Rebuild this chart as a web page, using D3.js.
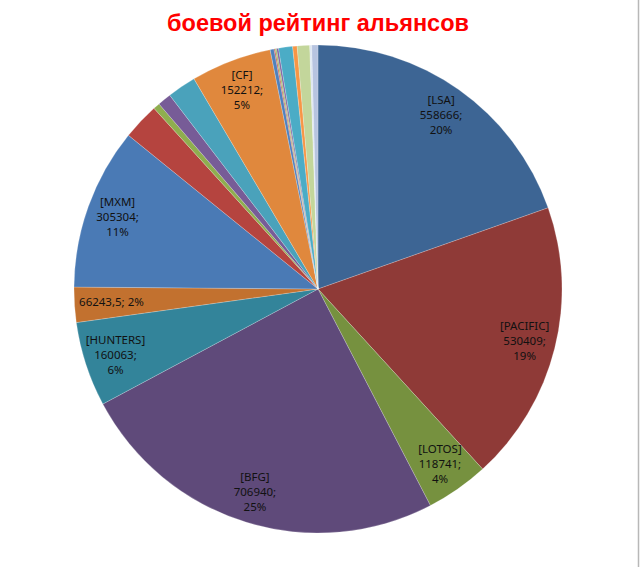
<!DOCTYPE html>
<html>
<head>
<meta charset="utf-8">
<script src="https://cdn.jsdelivr.net/npm/d3@7"></script>
<style>
  body { margin: 0; background: #fff; }
  svg { display: block; }
</style>
</head>
<body>
<div id="chart"></div>
<script>
// slices clockwise from 12 o'clock, as in the sheet
var names = ["[LSA]", "[PACIFIC]", "[LOTOS]", "[BFG]", "[HUNTERS]", "", "[MXM]",
             "", "", "", "", "[CF]",
             "", "", "", "", "", "", "", "", ""];
var values = [558666, 530409, 118741, 706940, 160063, 66243.5, 305304,
              69100, 12500, 25700, 54400, 152212,
              7300, 2200, 2600, 3700, 26500, 8400, 23500, 3700, 11700];
var shown = [1, 1, 1, 1, 1, 1, 1, 0, 0, 0, 0, 1, 0, 0, 0, 0, 0, 0, 0, 0, 0];
var colors = ["#3d6594", "#8f3a37", "#76913f", "#5f4a7a", "#33849a", "#c2712f", "#4a7ab5",
              "#b5443f", "#8fae4f", "#775c97", "#4aa2bb", "#e0883d",
              "#4f81bd", "#c0504d", "#9bbb59", "#8064a2", "#4bacc6", "#f79646",
              "#c3d69b", "#dce6f2", "#b7c4e0"];
var title = "боевой рейтинг альянсов";

var width = 640, height = 567,
    cx = 318, cy = 289, radius = 244, labelR = 213, lineH = 15;

var total = d3.sum(values);
var numFormat = d3.formatLocale({decimal: ",", thousands: "", grouping: [3]}).format("~f");

var svg = d3.select("#chart").append("svg")
    .attr("width", width)
    .attr("height", height);

svg.append("rect")
    .attr("width", width).attr("height", height)
    .attr("fill", "#fff");

svg.append("line")
    .attr("x1", 638.5).attr("x2", 638.5)
    .attr("y1", 0).attr("y2", height)
    .attr("stroke", "#b8b8b8")
    .attr("stroke-width", 1.5);

svg.append("text")
    .attr("x", 318).attr("y", 31)
    .attr("text-anchor", "middle")
    .attr("font-family", "'Liberation Sans', Arial, sans-serif")
    .attr("font-weight", "bold")
    .attr("font-size", 23.5)
    .attr("fill", "#ff0000")
    .text(title);

var pie = d3.pie().sort(null).value((d) => d)(values);
var arc = d3.arc().innerRadius(0).outerRadius(radius);

var g = svg.append("g").attr("transform", "translate(" + cx + "," + cy + ")");

g.selectAll("path.slice").data(pie)
  .enter().append("path")
    .attr("class", "slice")
    .attr("d", arc)
    .attr("fill", (d, i) => colors[i])
    .attr("stroke", "#fff")
    .attr("stroke-opacity", 0.35)
    .attr("stroke-width", 0.6);

var labels = g.selectAll("text.label").data(pie.filter((d, i) => shown[i]))
  .enter().append("text")
    .attr("class", "label")
    .attr("text-anchor", "middle")
    .attr("font-family", "'Noto Sans', 'Open Sans', sans-serif")
    .attr("font-size", 11.5)
    .attr("fill", "#111");

labels.each(function (d) {
    var name = names[d.index],
        pct = Math.round(d.value / total * 100) + "%",
        lines = name ? [name, numFormat(d.value) + ";", pct] : [numFormat(d.value) + "; " + pct],
        r = name ? labelR : 207,
        mid = (d.startAngle + d.endAngle) / 2,
        x = Math.sin(mid) * r,
        y = -Math.cos(mid) * r,
        text = d3.select(this);

    lines.forEach(function (s, k) {
        text.append("tspan")
            .attr("x", x)
            .attr("y", y + (k - (lines.length - 1) / 2) * lineH)
            .attr("dy", "0.35em")
            .text(s);
    });
});
</script>
</body>
</html>
